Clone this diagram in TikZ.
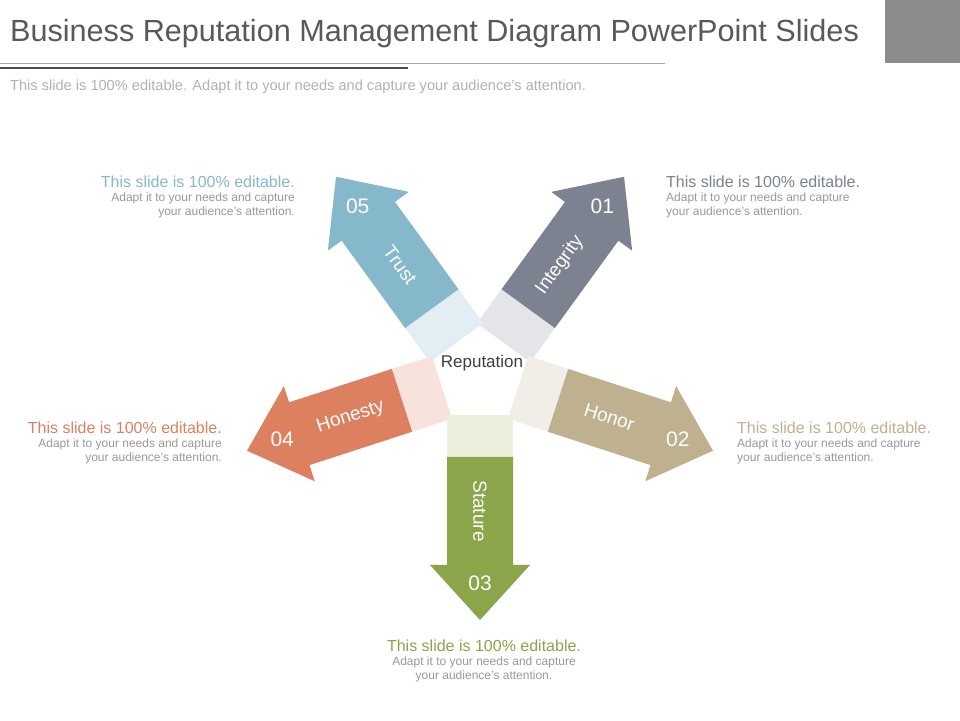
\documentclass[tikz,border=0pt]{standalone}
\usepackage{fontspec}
\setmainfont{Liberation Sans}
\usetikzlibrary{calc}
\begin{document}
\begin{tikzpicture}[x=1pt,y=1pt,
  lbl/.style={text=white,font=\fontsize{19}{19}\selectfont},
  num/.style={text=white,font=\fontsize{21}{21}\selectfont},
  hd/.style={font=\fontsize{16}{16}\selectfont,inner sep=0pt},
  bd/.style={font=\fontsize{12}{14}\selectfont,text=gray!80,inner sep=0pt}]
\useasboundingbox (0,0) rectangle (960,720);
\fill[white] (0,0) rectangle (960,720);
\fill[black!45] (885,657) rectangle (960,720);
\node[anchor=west,text=black!65,font=\fontsize{30.6}{31}\selectfont,inner sep=0pt] (title) at (10,686) {Business Reputation Management Diagram PowerPoint Slides};
\draw[black!35,line width=0.8pt] (0,657) -- (665,657);
\draw[black!70,line width=2.5pt] (0,652) -- (408,652);
\node[anchor=west,text=black!30,font=\fontsize{14.6}{15}\selectfont,inner sep=0pt] (sub) at (10,633) {This slide is 100\% editable. Adapt it to your needs and capture your audience's attention.};
\coordinate (C) at (480,345);
\newcommand{\myarrow}[6]{%
 \begin{scope}[shift={(C)},rotate=#1]
  \fill[#3] (40,-33) rectangle (82,33);
  \fill[#2] (82,-33) -- (190,-33) -- (190,-50) -- (245,0) -- (190,50) -- (190,33) -- (82,33) -- cycle;
  \node[lbl,rotate=#6] at (136,0) {#4};
 \end{scope}
 \node[num] at ($(C)+(#1:208)$) {#5};}
\definecolor{cTr}{HTML}{86B8CB}\definecolor{sTr}{HTML}{E3EEF4}
\definecolor{cIn}{HTML}{7C8290}\definecolor{sIn}{HTML}{E4E5E8}
\definecolor{cHo}{HTML}{BFB18F}\definecolor{sHo}{HTML}{F0EEE6}
\definecolor{cSt}{HTML}{8BA54A}\definecolor{sSt}{HTML}{EAF0DC}
\definecolor{cHn}{HTML}{DC8060}\definecolor{sHn}{HTML}{F8E3DC}
\myarrow{54}{cIn}{sIn}{Integrity}{01}{54}
\myarrow{126}{cTr}{sTr}{Trust}{05}{-54}
\myarrow{-18}{cHo}{sHo}{Honor}{02}{-18}
\myarrow{198}{cHn}{sHn}{Honesty}{04}{18}
\myarrow{-90}{cSt}{sSt}{Stature}{03}{-90}
\node[text=black!75,font=\fontsize{17}{17}\selectfont] (rep) at (482,357) {Reputation};
\node[hd,anchor=north east,text=cTr] (t5) at (295,544) {This slide is 100\% editable.};
\node[bd,anchor=north east,align=right] (b5) at (295,527) {Adapt it to your needs and capture\\your audience's attention.};
\node[hd,anchor=north west,text=cIn] (t1) at (666,544) {This slide is 100\% editable.};
\node[bd,anchor=north west,align=left] (b1) at (666,527) {Adapt it to your needs and capture\\your audience's attention.};
\node[hd,anchor=north west,text=cHo] (t2) at (737,298) {This slide is 100\% editable.};
\node[bd,anchor=north west,align=left] (b2) at (737,281) {Adapt it to your needs and capture\\your audience's attention.};
\node[hd,anchor=north east,text=cHn] (t4) at (222,298) {This slide is 100\% editable.};
\node[bd,anchor=north east,align=right] (b4) at (222,281) {Adapt it to your needs and capture\\your audience's attention.};
\node[hd,anchor=north,text=cSt] (t3) at (484,80) {This slide is 100\% editable.};
\node[bd,anchor=north,align=center] (b3) at (484,63) {Adapt it to your needs and capture\\your audience's attention.};
\end{tikzpicture}
\end{document}
